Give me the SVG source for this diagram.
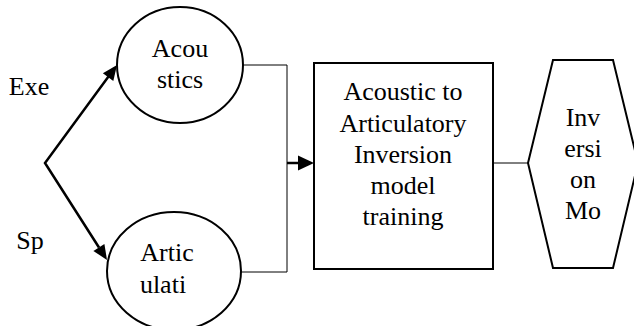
<svg xmlns="http://www.w3.org/2000/svg" width="634" height="326" viewBox="0 0 634 326">
<style>
text{font-family:"Liberation Serif","Times New Roman",serif;font-size:26px;fill:#000;text-anchor:middle}
.shape{fill:#fff;stroke:#000;stroke-width:2}
.thin{fill:none;stroke:#000;stroke-width:1}
.thick{fill:none;stroke:#000;stroke-width:2.5}
.head{fill:#000;stroke:none}
</style>
<g id="connectors">
<path class="thick" d="M108.5,76.5 L45,163 L99,247.5" stroke-linejoin="miter"/>
<polygon class="head" points="117,65 102.9,73.3 113.3,80.9"/>
<polygon class="head" points="107,260 93.4,250.9 104.4,243.9"/>
<path class="thin" d="M243,65 H287 V272 H241"/>
<path class="thick" d="M287,163 H299"/>
<polygon class="head" points="314,163 298,155.5 298,170.5"/>
<path class="thin" d="M493,163 H528"/>
</g>
<g id="label-exe"><text x="29" y="95">Exe</text></g>
<g id="label-sp"><text x="30" y="249">Sp</text></g>
<g id="acoustics">
<ellipse class="shape" cx="180" cy="65" rx="63" ry="58"/>
<text x="180" y="57">Acou</text>
<text x="180" y="88">stics</text>
</g>
<g id="articulati">
<ellipse class="shape" cx="174" cy="271" rx="67" ry="59"/>
<text x="167" y="261">Artic</text>
<text x="163" y="293">ulati</text>
</g>
<g id="training">
<rect class="shape" x="314" y="63" width="179" height="206"/>
<text x="403" y="100">Acoustic to</text>
<text x="403" y="132">Articulatory</text>
<text x="403" y="163">Inversion</text>
<text x="403" y="194">model</text>
<text x="403" y="225">training</text>
</g>
<g id="inversion-model">
<polygon class="shape" points="528,163 553,60 613,60 638,163 613,268 553,268"/>
<text x="583" y="126">Inv</text>
<text x="583" y="157">ersi</text>
<text x="583" y="188">on</text>
<text x="583" y="219">Mo</text>
</g>
</svg>
